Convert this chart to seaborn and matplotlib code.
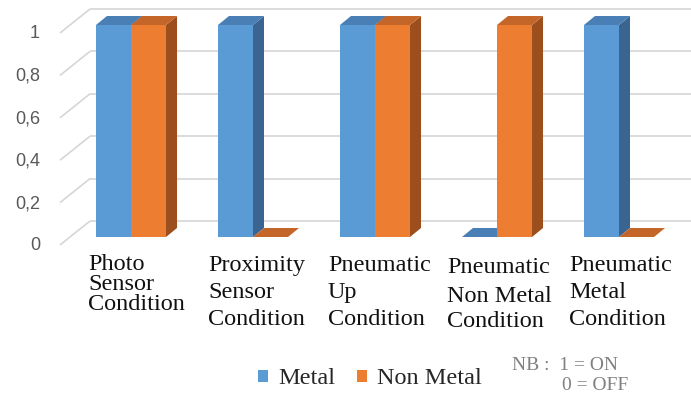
import matplotlib
matplotlib.use("Agg")
import matplotlib.pyplot as plt
import pandas as pd
import seaborn as sns
from matplotlib.patches import Polygon, Patch

# ---- data -------------------------------------------------------------
categories = [
    "Photo Sensor Condition",
    "Proximity Sensor Condition",
    "Pneumatic Up Condition",
    "Pneumatic Non Metal Condition",
    "Pneumatic Metal Condition",
]
category_lines = [
    ["Photo", "Sensor", "Condition"],
    ["Proximity", "Sensor", "Condition"],
    ["Pneumatic", "Up", "Condition"],
    ["Pneumatic", "Non Metal", "Condition"],
    ["Pneumatic", "Metal", "Condition"],
]
series = ["Metal", "Non Metal"]
metal = [1, 1, 1, 0, 1]
non_metal = [1, 0, 1, 1, 0]
y_ticks = [0, 0.2, 0.4, 0.6, 0.8, 1]
y_tick_labels = ["0", "0,2", "0,4", "0,6", "0,8", "1"]
note_lines = ["NB :  1 = ON", "0 = OFF"]

# ---- style ------------------------------------------------------------
W, H = 691, 398
FRONT = {"Metal": "#5b9bd5", "Non Metal": "#ed7d31"}
TOP = {"Metal": "#4a7fb6", "Non Metal": "#c4662a"}
SIDE = {"Metal": "#3b6591", "Non Metal": "#9c4f1d"}
GRID = "#d6d6d6"
SERIF = "Liberation Serif"

df = pd.DataFrame({
    "category": categories * 2,
    "series": [series[0]] * len(categories) + [series[1]] * len(categories),
    "value": metal + non_metal,
})

sns.set_theme(style="white")
fig = plt.figure(figsize=(W / 100, H / 100), dpi=100)
ax = fig.add_axes([0, 0, 1, 1])

sns.barplot(data=df, x="category", y="value", hue="series", order=categories,
            hue_order=series, palette=FRONT, width=0.574, saturation=1,
            linewidth=0, legend=False, ax=ax)

# front plane: category i at x = 131 + 122 i px, value v at y = 161 + 212 v px
X0, XS, Y0, YS = 131, 122, 161, 212
ax.set_xlim(-X0 / XS, (W - X0) / XS)
ax.set_ylim(-Y0 / YS, (H - Y0) / YS)
ax.axis("off")

to_px = ax.transData.transform
to_data = ax.transData.inverted().transform


def shifted(points, offsets):
    px = to_px(points)
    px = px + offsets
    return to_data(px)


# depth of the bars and of the walls, in pixels
BDX, BDY = 11, 9
WALL = (20, 16)
FLOOR = (-10, -8)

# back wall gridlines and the left wall edges
for v in y_ticks:
    left = [(70 - X0) / XS, v]
    right = [(W + 10 - X0) / XS, v]
    p = shifted([left, right], [WALL, WALL])
    ax.plot(p[:, 0], p[:, 1], color=GRID, lw=1.2, zorder=1, solid_capstyle="butt")
    q = shifted([left, left], [FLOOR, WALL])
    ax.plot(q[:, 0], q[:, 1], color=GRID, lw=1.2, zorder=1, solid_capstyle="butt")

# extrude every bar: side face and top face
n = len(categories)
for k, bar in enumerate(ax.patches[: 2 * n]):
    s = series[k // n]
    z = 3 + k // n
    bar.set_zorder(z)
    x, w, h = bar.get_x(), bar.get_width(), bar.get_height()
    side = shifted([[x + w, 0], [x + w, h], [x + w, h], [x + w, 0]],
                   [[0, 0], [0, 0], [BDX, BDY], [BDX, BDY]])
    top = shifted([[x, h], [x + w, h], [x + w, h], [x, h]],
                  [[0, 0], [0, 0], [BDX, BDY], [BDX, BDY]])
    ax.add_patch(Polygon(side, closed=True, facecolor=SIDE[s], lw=0, zorder=z))
    ax.add_patch(Polygon(top, closed=True, facecolor=TOP[s], lw=0, zorder=z))

# value labels on the left wall
for v, lab in zip(y_ticks, y_tick_labels):
    yy = (H - (245 - 212 * v) - 1) / H
    fig.text(40 / W, yy, lab, ha="right", va="center", color="#595959",
             fontsize=13, family="Liberation Sans")

# category labels, line by line
label_left = [88, 208, 328, 447, 569]
label_baselines = [
    [270, 290, 310],
    [271, 298, 325],
    [271, 298, 325],
    [273, 302, 327],
    [271, 298, 325],
]
for lines, xl, bases in zip(category_lines, label_left, label_baselines):
    for line, b in zip(lines, bases):
        fig.text(xl / W, (H - b) / H, line, ha="left", va="baseline",
                 color="#111111", fontsize=17.5, family=SERIF)

# legend
handles = [Patch(facecolor=FRONT[s], edgecolor="none", label=s) for s in series]
fig.legend(handles=handles, labels=series, loc="center left",
           bbox_to_anchor=(258 / W, (H - 379) / H), ncol=2, frameon=False,
           prop={"family": SERIF, "size": 17.5}, handlelength=0.42,
           handleheight=0.42, handletextpad=0.4, columnspacing=0.9,
           borderpad=0, borderaxespad=0)

# note
fig.text(512 / W, (H - 370) / H, note_lines[0], ha="left", va="baseline",
         color="#808080", fontsize=14, family=SERIF)
fig.text(562 / W, (H - 390) / H, note_lines[1], ha="left", va="baseline",
         color="#808080", fontsize=14, family=SERIF)

fig.savefig("out.png", dpi=100)
